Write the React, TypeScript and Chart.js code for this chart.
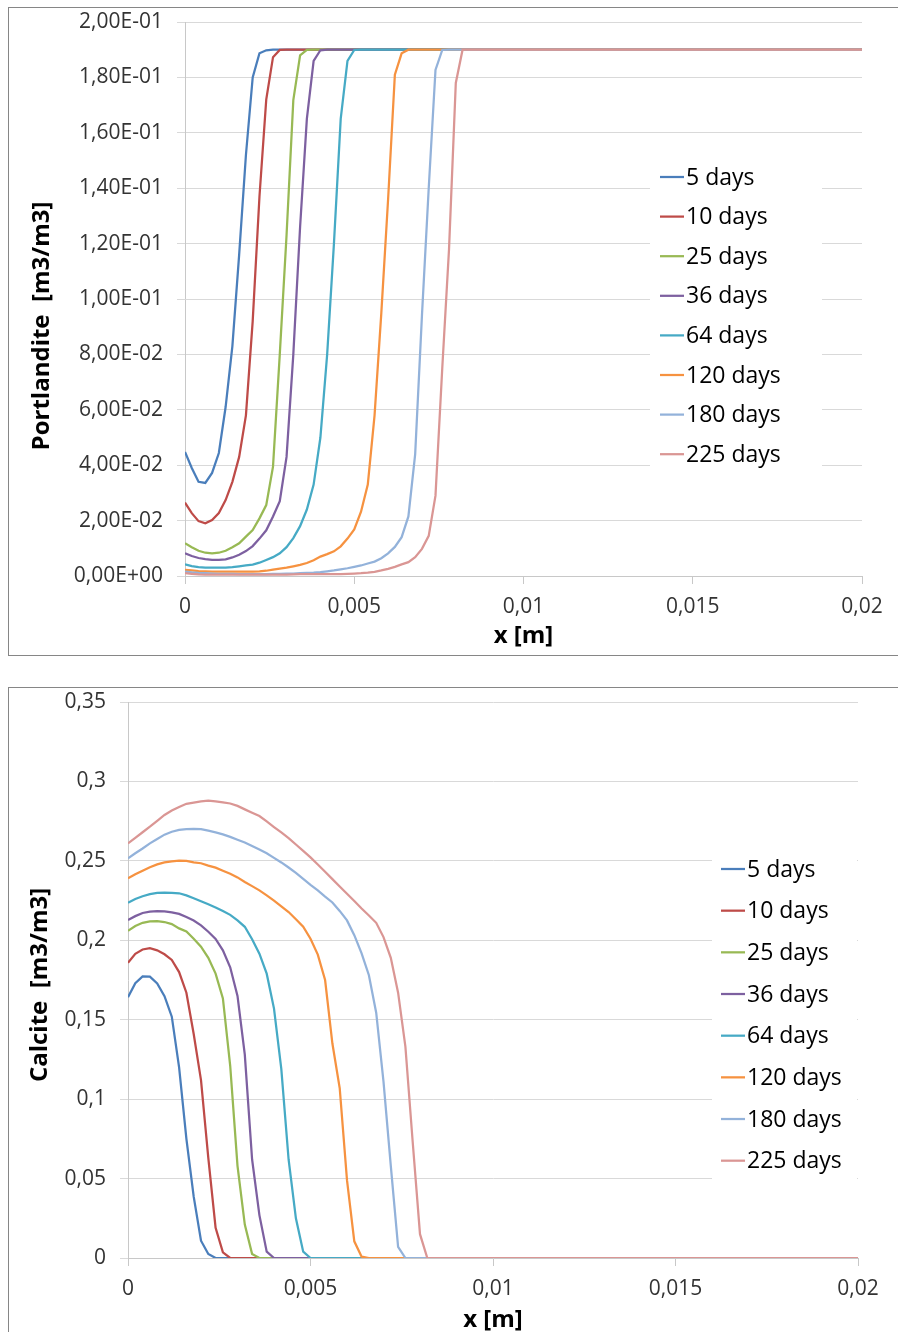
import { useEffect, useRef } from "react";
import { Chart, registerables } from "chart.js";

Chart.register(...registerables);

// ---------------- DATA ----------------
const X_POSITIONS = [
  0, 0.0002, 0.0004, 0.0006, 0.0008, 0.001, 0.0012, 0.0014, 0.0016, 0.0018,
  0.002, 0.0022, 0.0024, 0.0026, 0.0028, 0.003, 0.0032, 0.0034, 0.0036, 0.0038,
  0.004, 0.0042, 0.0044, 0.0046, 0.0048, 0.005, 0.0052, 0.0054, 0.0056, 0.0058,
  0.006, 0.0062, 0.0064, 0.0066, 0.0068, 0.007, 0.0072, 0.0074, 0.0076, 0.0078,
  0.008, 0.0082, 0.0084, 0.02,
];

const SERIES_LABELS = ["5 days", "10 days", "25 days", "36 days", "64 days", "120 days", "180 days", "225 days"];
const SERIES_COLORS = ["#4A7EBB", "#BE4B48", "#98B954", "#7D60A0", "#46AAC5", "#F69240", "#93B2DA", "#DA9694"];

const X_TICK_VALUES = [0, 0.005, 0.01, 0.015, 0.02];
const X_TICK_LABELS = ["0", "0,005", "0,01", "0,015", "0,02"];

const PORT_TICK_VALUES = [0, 0.02, 0.04, 0.06, 0.08, 0.1, 0.12, 0.14, 0.16, 0.18, 0.2];
const PORT_TICK_LABELS = ["0,00E+00", "2,00E-02", "4,00E-02", "6,00E-02", "8,00E-02", "1,00E-01", "1,20E-01", "1,40E-01", "1,60E-01", "1,80E-01", "2,00E-01"];

const CALC_TICK_VALUES = [0, 0.05, 0.1, 0.15, 0.2, 0.25, 0.3, 0.35];
const CALC_TICK_LABELS = ["0", "0,05", "0,1", "0,15", "0,2", "0,25", "0,3", "0,35"];

// Portlandite [m3/m3]
const PORT_5 = [
  0.0448, 0.039, 0.034, 0.0336, 0.0372, 0.0444, 0.061, 0.083, 0.116, 0.152,
  0.18, 0.1887, 0.1898, 0.19, 0.19, 0.19, 0.19, 0.19, 0.19, 0.19,
  0.19, 0.19, 0.19, 0.19, 0.19, 0.19, 0.19, 0.19, 0.19, 0.19,
  0.19, 0.19, 0.19, 0.19, 0.19, 0.19, 0.19, 0.19, 0.19, 0.19,
  0.19, 0.19, 0.19, 0.19,
];
const PORT_10 = [
  0.0265, 0.0227, 0.0198, 0.019, 0.0202, 0.0227, 0.0274, 0.034, 0.043, 0.058,
  0.092, 0.137, 0.172, 0.1873, 0.1899, 0.19, 0.19, 0.19, 0.19, 0.19,
  0.19, 0.19, 0.19, 0.19, 0.19, 0.19, 0.19, 0.19, 0.19, 0.19,
  0.19, 0.19, 0.19, 0.19, 0.19, 0.19, 0.19, 0.19, 0.19, 0.19,
  0.19, 0.19, 0.19, 0.19,
];
const PORT_25 = [
  0.0118, 0.0104, 0.0091, 0.0084, 0.0082, 0.0084, 0.0091, 0.0104, 0.0118, 0.0142,
  0.0166, 0.0208, 0.0256, 0.0395, 0.08, 0.123, 0.1718, 0.188, 0.1899, 0.19,
  0.19, 0.19, 0.19, 0.19, 0.19, 0.19, 0.19, 0.19, 0.19, 0.19,
  0.19, 0.19, 0.19, 0.19, 0.19, 0.19, 0.19, 0.19, 0.19, 0.19,
  0.19, 0.19, 0.19, 0.19,
];
const PORT_36 = [
  0.0082, 0.0072, 0.0065, 0.0061, 0.0058, 0.0058, 0.006, 0.0067, 0.0077, 0.009,
  0.0108, 0.0135, 0.0165, 0.0215, 0.027, 0.043, 0.08, 0.126, 0.165, 0.186,
  0.1898, 0.19, 0.19, 0.19, 0.19, 0.19, 0.19, 0.19, 0.19, 0.19,
  0.19, 0.19, 0.19, 0.19, 0.19, 0.19, 0.19, 0.19, 0.19, 0.19,
  0.19, 0.19, 0.19, 0.19,
];
const PORT_64 = [
  0.0042, 0.0036, 0.0032, 0.003, 0.003, 0.003, 0.003, 0.0032, 0.0035, 0.0038,
  0.0041, 0.0048, 0.0058, 0.0068, 0.0082, 0.0104, 0.0137, 0.018, 0.024, 0.033,
  0.05, 0.08, 0.12, 0.165, 0.186, 0.1899, 0.19, 0.19, 0.19, 0.19,
  0.19, 0.19, 0.19, 0.19, 0.19, 0.19, 0.19, 0.19, 0.19, 0.19,
  0.19, 0.19, 0.19, 0.19,
];
const PORT_120 = [
  0.0022, 0.002, 0.0018, 0.0017, 0.0016, 0.0016, 0.0016, 0.0016, 0.0016, 0.0016,
  0.0016, 0.0017, 0.0019, 0.0023, 0.0027, 0.003, 0.0035, 0.004, 0.0047, 0.0057,
  0.007, 0.0079, 0.0089, 0.0107, 0.0135, 0.0168, 0.0232, 0.033, 0.058, 0.095,
  0.136, 0.181, 0.1887, 0.19, 0.19, 0.19, 0.19, 0.19, 0.19, 0.19,
  0.19, 0.19, 0.19, 0.19,
];
const PORT_180 = [
  0.0016, 0.0013, 0.0011, 0.001, 0.0009, 0.0008, 0.0008, 0.0008, 0.0007, 0.0007,
  0.0007, 0.0007, 0.0007, 0.0008, 0.0008, 0.0009, 0.0009, 0.001, 0.0011, 0.0012,
  0.0014, 0.0017, 0.002, 0.0024, 0.0028, 0.0033, 0.0038, 0.0045, 0.0052, 0.0064,
  0.0082, 0.0105, 0.014, 0.0215, 0.044, 0.094, 0.14, 0.1827, 0.1899, 0.19,
  0.19, 0.19, 0.19, 0.19,
];
const PORT_225 = [
  0.001, 0.0008, 0.0006, 0.0005, 0.0005, 0.0005, 0.0005, 0.0005, 0.0005, 0.0005,
  0.0005, 0.0005, 0.0005, 0.0005, 0.0005, 0.0005, 0.0006, 0.0007, 0.0007, 0.0007,
  0.0007, 0.0007, 0.0007, 0.0007, 0.0008, 0.0009, 0.001, 0.0012, 0.0015, 0.002,
  0.0026, 0.0033, 0.0042, 0.005, 0.0068, 0.0098, 0.0145, 0.029, 0.075, 0.118,
  0.178, 0.19, 0.19, 0.19,
];

// Calcite [m3/m3]
const CALC_5 = [
  0.1641, 0.173, 0.1772, 0.1771, 0.1729, 0.1648, 0.1519, 0.12, 0.075, 0.0386,
  0.0109, 0.0025, 0, 0, 0, 0, 0, 0, 0, 0,
  0, 0, 0, 0, 0, 0, 0, 0, 0, 0,
  0, 0, 0, 0, 0, 0, 0, 0, 0, 0,
  0, 0, 0, 0,
];
const CALC_10 = [
  0.1859, 0.1915, 0.1942, 0.195, 0.1937, 0.1912, 0.1876, 0.18, 0.167, 0.141,
  0.112, 0.063, 0.019, 0.0035, 0, 0, 0, 0, 0, 0,
  0, 0, 0, 0, 0, 0, 0, 0, 0, 0,
  0, 0, 0, 0, 0, 0, 0, 0, 0, 0,
  0, 0, 0, 0,
];
const CALC_25 = [
  0.206, 0.209, 0.211, 0.2119, 0.212, 0.2115, 0.2102, 0.2075, 0.2055, 0.201,
  0.196, 0.189, 0.179, 0.1634, 0.121, 0.058, 0.021, 0.0025, 0, 0,
  0, 0, 0, 0, 0, 0, 0, 0, 0, 0,
  0, 0, 0, 0, 0, 0, 0, 0, 0, 0,
  0, 0, 0, 0,
];
const CALC_36 = [
  0.2128, 0.2152, 0.2172, 0.218, 0.2184, 0.2182, 0.2176, 0.2166, 0.2146, 0.2124,
  0.2094, 0.2054, 0.2009, 0.1937, 0.183, 0.165, 0.128, 0.062, 0.027, 0.004,
  0, 0, 0, 0, 0, 0, 0, 0, 0, 0,
  0, 0, 0, 0, 0, 0, 0, 0, 0, 0,
  0, 0, 0, 0,
];
const CALC_64 = [
  0.2237, 0.226, 0.2277, 0.229, 0.2298, 0.23, 0.2299, 0.2296, 0.2283, 0.2265,
  0.2246, 0.2227, 0.2207, 0.2185, 0.216, 0.2125, 0.2085, 0.2007, 0.1916, 0.179,
  0.157, 0.119, 0.062, 0.025, 0.004, 0, 0, 0, 0, 0,
  0, 0, 0, 0, 0, 0, 0, 0, 0, 0,
  0, 0, 0, 0,
];
const CALC_120 = [
  0.239, 0.2415, 0.2438, 0.246, 0.2478, 0.249, 0.2497, 0.2501, 0.25, 0.249,
  0.2485, 0.247, 0.2457, 0.2438, 0.2419, 0.2396, 0.2367, 0.2341, 0.2314, 0.2283,
  0.225, 0.2214, 0.2178, 0.2132, 0.2085, 0.201, 0.191, 0.175, 0.135, 0.107,
  0.049, 0.0105, 0.0008, 0, 0, 0, 0, 0, 0, 0,
  0, 0, 0, 0,
];
const CALC_180 = [
  0.2516, 0.2548, 0.2578, 0.261, 0.2637, 0.2665, 0.2683, 0.2695, 0.27, 0.2701,
  0.27, 0.269, 0.2679, 0.2667, 0.2651, 0.2633, 0.2616, 0.2594, 0.2571, 0.2548,
  0.2519, 0.249, 0.2458, 0.2424, 0.2387, 0.2349, 0.2314, 0.2275, 0.2238, 0.2185,
  0.2125, 0.2032, 0.1918, 0.178, 0.1544, 0.111, 0.058, 0.007, 0, 0,
  0, 0, 0, 0,
];
const CALC_225 = [
  0.261, 0.2645, 0.268, 0.2715, 0.2752, 0.2789, 0.2817, 0.2839, 0.2859, 0.2867,
  0.2874, 0.2879, 0.2875, 0.2868, 0.2861, 0.2846, 0.2824, 0.2803, 0.2782, 0.2748,
  0.2713, 0.2679, 0.2643, 0.2603, 0.2563, 0.2522, 0.2477, 0.2431, 0.2385, 0.2339,
  0.2293, 0.2247, 0.22, 0.2156, 0.211, 0.202, 0.189, 0.167, 0.133, 0.073,
  0.015, 0, 0, 0,
];

const PORT_SERIES = [PORT_5, PORT_10, PORT_25, PORT_36, PORT_64, PORT_120, PORT_180, PORT_225];
const CALC_SERIES = [CALC_5, CALC_10, CALC_25, CALC_36, CALC_64, CALC_120, CALC_180, CALC_225];

// ---------------- STYLE ----------------
const FONT = '"Open Sans", "Noto Sans", sans-serif';
const GRID = "#D9D9D9";
const AXIS = "#C8C8C8";
const TICK_TEXT = "#333333";

const yTitlePlugin = {
  id: "yTitle",
  afterDraw(chart: any, _args: any, opts: any) {
    if (!opts || !opts.text) return;
    const ctx = chart.ctx;
    ctx.save();
    ctx.translate(opts.x, opts.y);
    ctx.rotate(-Math.PI / 2);
    ctx.font = `bold ${opts.size}px ${FONT}`;
    ctx.fillStyle = "#000";
    ctx.textAlign = "center";
    ctx.textBaseline = "middle";
    ctx.fillText(opts.text, 0, 0);
    ctx.restore();
  },
};

const boxLegendPlugin = {
  id: "boxLegend",
  afterDraw(chart: any, _args: any, opts: any) {
    if (!opts || opts.boxW == null) return;
    const ctx = chart.ctx;
    ctx.save();
    ctx.fillStyle = "#fff";
    ctx.fillRect(opts.boxX, opts.boxY, opts.boxW, opts.boxH);
    ctx.font = `${opts.size}px ${FONT}`;
    ctx.textAlign = "left";
    ctx.textBaseline = "middle";
    chart.data.datasets.forEach((ds: any, i: number) => {
      const y = opts.firstY + i * opts.rowGap;
      ctx.strokeStyle = ds.borderColor;
      ctx.lineWidth = 2.25;
      ctx.beginPath();
      ctx.moveTo(opts.lineX1, y);
      ctx.lineTo(opts.lineX2, y);
      ctx.stroke();
      ctx.fillStyle = "#000";
      ctx.fillText(ds.label, opts.textX, y + 1);
    });
    ctx.restore();
  },
};

function labelFor(values: number[], labels: string[], v: number) {
  let best = -1;
  let bestD = Infinity;
  values.forEach((tv, i) => {
    const d = Math.abs(tv - v);
    if (d < bestD) {
      bestD = d;
      best = i;
    }
  });
  return bestD < 1e-6 ? labels[best] : "";
}

function buildConfig(p: any) {
  return {
    type: "line",
    data: {
      datasets: p.series.map((vals: number[], i: number) => ({
        label: SERIES_LABELS[i],
        data: vals.map((y, k) => ({ x: X_POSITIONS[k], y })),
        borderColor: SERIES_COLORS[i],
        backgroundColor: SERIES_COLORS[i],
        borderWidth: 2.25,
        pointRadius: 0,
        fill: false,
        tension: 0,
        order: SERIES_LABELS.length - i,
      })),
    },
    options: {
      animation: false,
      responsive: false,
      maintainAspectRatio: false,
      layout: { padding: { top: p.padTop, right: p.padRight, bottom: 0, left: 0 } },
      plugins: {
        legend: { display: false },
        tooltip: { enabled: false },
        yTitle: p.yTitle,
        boxLegend: p.legend,
      },
      scales: {
        x: {
          type: "linear",
          min: 0,
          max: 0.02,
          ticks: {
            stepSize: 0.005,
            autoSkip: false,
            maxRotation: 0,
            padding: 10,
            color: TICK_TEXT,
            font: { family: FONT, size: 21 },
            callback: (v: number) => labelFor(X_TICK_VALUES, X_TICK_LABELS, v),
          },
          grid: { drawOnChartArea: false, drawTicks: true, tickLength: 8, color: AXIS },
          border: { display: true, color: AXIS, width: 1 },
          title: {
            display: true,
            text: "x [m]",
            color: "#000",
            font: { family: FONT, size: 24, weight: "bold", lineHeight: 1 },
            padding: { top: 0, bottom: p.xTitlePad },
          },
          afterFit: (s: any) => {
            s.height = p.xAxisHeight;
          },
        },
        y: {
          type: "linear",
          min: p.yMin,
          max: p.yMax,
          ticks: {
            stepSize: p.yStep,
            autoSkip: false,
            padding: 14,
            color: TICK_TEXT,
            font: { family: FONT, size: 21 },
            callback: (v: number) => labelFor(p.yTickValues, p.yTickLabels, v),
          },
          grid: { color: GRID, drawTicks: true, tickLength: 8, lineWidth: 1 },
          border: { display: true, color: AXIS, width: 1 },
          afterFit: (s: any) => {
            s.width = p.yAxisWidth;
            s.paddingTop = 0;
            s.paddingBottom = 0;
          },
        },
      },
    },
    plugins: [yTitlePlugin, boxLegendPlugin],
  };
}

export default function App() {
  const topRef = useRef<HTMLCanvasElement>(null);
  const botRef = useRef<HTMLCanvasElement>(null);

  useEffect(() => {
    Chart.defaults.font.family = FONT;
    const top = new Chart(
      topRef.current as HTMLCanvasElement,
      buildConfig({
        series: PORT_SERIES,
        yMin: 0,
        yMax: 0.2,
        yStep: 0.02,
        yTickValues: PORT_TICK_VALUES,
        yTickLabels: PORT_TICK_LABELS,
        padTop: 14,
        padRight: 36,
        yAxisWidth: 176,
        xAxisHeight: 79,
        xTitlePad: 7,
        yTitle: { text: "Portlandite  [m3/m3]", x: 33, y: 318, size: 24 },
        legend: {
          boxX: 641, boxY: 142, boxW: 172, boxH: 330,
          firstY: 169, rowGap: 39.6, lineX1: 651, lineX2: 675, textX: 677, size: 23,
        },
      }) as any
    );
    const bot = new Chart(
      botRef.current as HTMLCanvasElement,
      buildConfig({
        series: CALC_SERIES,
        yMin: 0,
        yMax: 0.35,
        yStep: 0.05,
        yTickValues: CALC_TICK_VALUES,
        yTickLabels: CALC_TICK_LABELS,
        padTop: 14,
        padRight: 40,
        yAxisWidth: 119,
        xAxisHeight: 74,
        xTitlePad: 0,
        yTitle: { text: "Calcite  [m3/m3]", x: 31, y: 297, size: 24 },
        legend: {
          boxX: 703, boxY: 157, boxW: 145, boxH: 340,
          firstY: 181, rowGap: 41.67, lineX1: 712, lineX2: 736, textX: 738, size: 23,
        },
      }) as any
    );
    return () => {
      top.destroy();
      bot.destroy();
    };
  }, []);

  return (
    <div style={{ position: "absolute", left: 0, top: 0, width: 898, height: 1332, overflow: "hidden", background: "#fff" }}>
      <div
        style={{
          position: "absolute", left: 8, top: 7, width: 910, height: 649,
          boxSizing: "border-box", border: "1px solid #868686",
        }}
      >
        <canvas ref={topRef} width={889} height={647} style={{ display: "block" }} />
      </div>
      <div
        style={{
          position: "absolute", left: 8, top: 687, width: 910, height: 700,
          boxSizing: "border-box", border: "1px solid #868686",
        }}
      >
        <canvas ref={botRef} width={889} height={644} style={{ display: "block" }} />
      </div>
    </div>
  );
}
